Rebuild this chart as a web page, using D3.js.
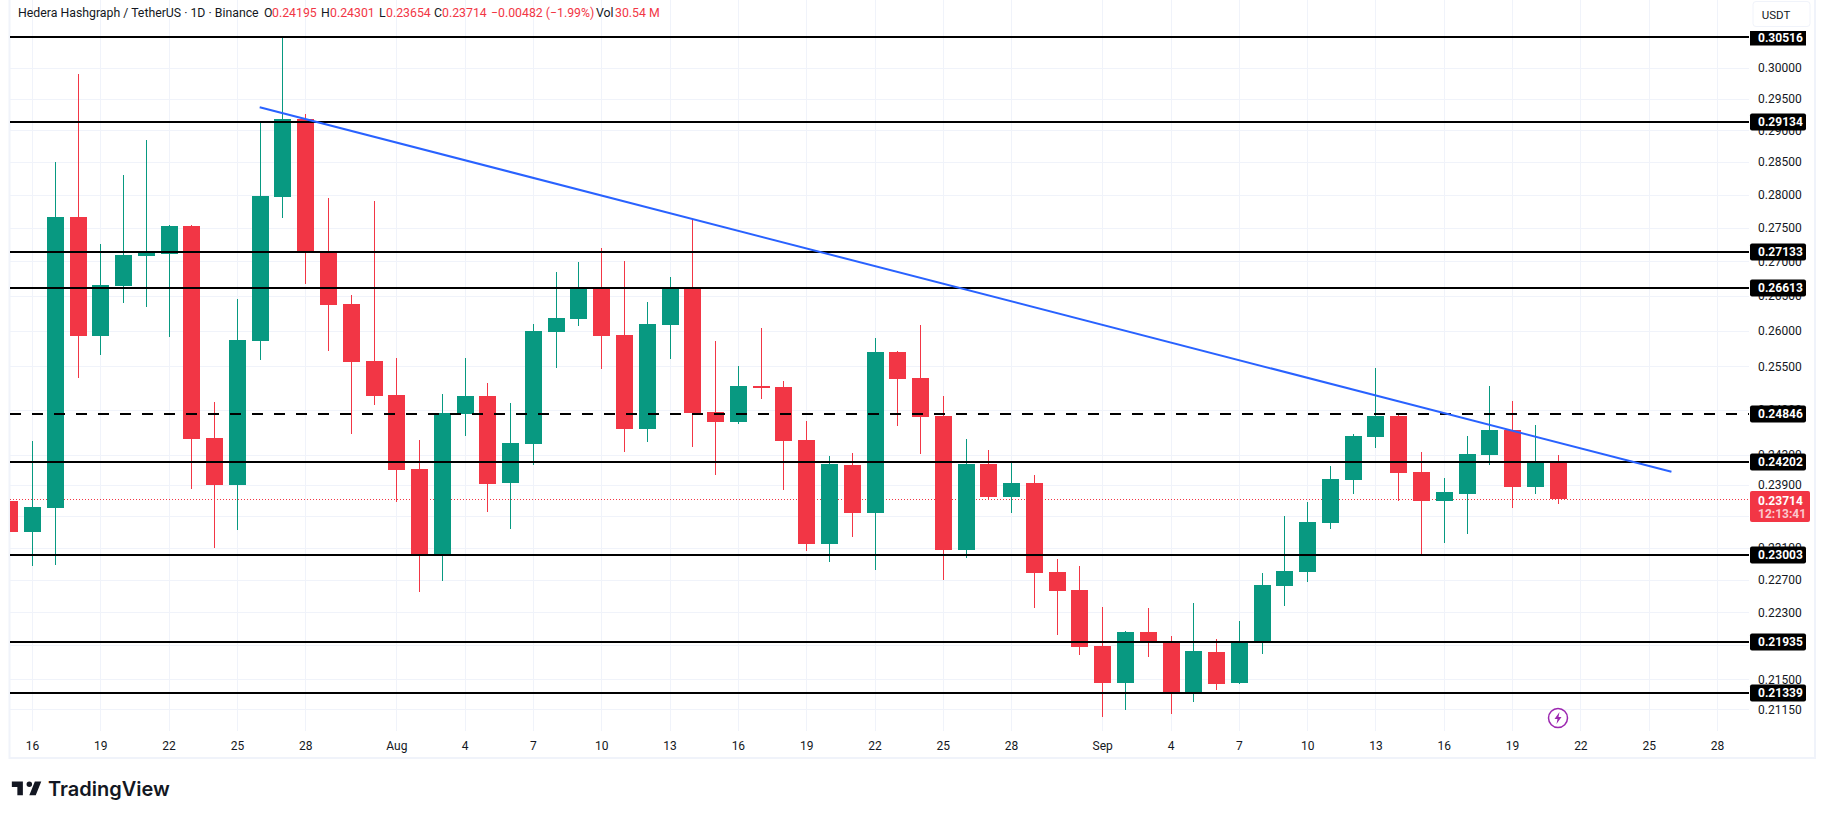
<!DOCTYPE html>
<html>
<head>
<meta charset="utf-8">
<script src="https://cdn.jsdelivr.net/npm/d3@7"></script>
<style>
  html, body { margin: 0; padding: 0; background: #fff; }
  svg { display: block; }
  text { font-family: Roboto, sans-serif; }
</style>
</head>
<body>
<div id="chart"></div>
<script>
// daily candles, 15 Jul to 21 Sep
const firstDay = "2025-07-15";
const lastDay = "2025-09-21";

const opens = [0.23693, 0.23298, 0.23604, 0.27662, 0.25929, 0.26641, 0.27079, 0.27109, 0.27527, 0.24523,
  0.23902, 0.25854, 0.27963, 0.29180, 0.27138, 0.26380, 0.25574, 0.25103, 0.24112, 0.23020,
  0.24846, 0.25089, 0.23929, 0.24442, 0.25982, 0.26167, 0.26612, 0.25939, 0.24644, 0.26082,
  0.26598, 0.24872, 0.24738, 0.25228, 0.25214, 0.24495, 0.23145, 0.24164, 0.23540, 0.25698,
  0.25339, 0.24819, 0.23069, 0.24178, 0.23745, 0.23929, 0.22796, 0.22573, 0.21893, 0.21458,
  0.22062, 0.21930, 0.21352, 0.21822, 0.21458, 0.21942, 0.22623, 0.22796, 0.23413, 0.23968,
  0.24536, 0.24819, 0.24073, 0.23693, 0.23785, 0.24295, 0.24630, 0.23876, 0.24195];
const highs = [0.24060, 0.24482, 0.28504, 0.29905, 0.27257, 0.28303, 0.28847, 0.27542, 0.27542, 0.25007,
  0.26452, 0.29117, 0.30516, 0.29259, 0.27948, 0.26510, 0.27902, 0.25615, 0.24495, 0.25117,
  0.25615, 0.25269, 0.24994, 0.26096, 0.26846, 0.26992, 0.27197, 0.27006, 0.26409, 0.26773,
  0.27632, 0.25854, 0.25505, 0.26039, 0.25297, 0.24751, 0.24282, 0.24322, 0.25896, 0.25712,
  0.26082, 0.25089, 0.24509, 0.24361, 0.24204, 0.24033, 0.22957, 0.22871, 0.22364, 0.22075,
  0.22352, 0.22014, 0.22413, 0.21978, 0.22195, 0.22784, 0.23502, 0.23680, 0.24151, 0.24576,
  0.25477, 0.24825, 0.24335, 0.23994, 0.24549, 0.25228, 0.25020, 0.24697, 0.24301];
const lows = [0.22900, 0.22874, 0.22886, 0.25339, 0.25661, 0.26399, 0.26342, 0.25915, 0.23850, 0.23094,
  0.23324, 0.25588, 0.27647, 0.26671, 0.25712, 0.24576, 0.24967, 0.23680, 0.22548, 0.22685,
  0.24550, 0.23553, 0.23337, 0.24164, 0.25477, 0.26067, 0.25463, 0.24335, 0.24468, 0.25601,
  0.24401, 0.24033, 0.24711, 0.25048, 0.23837, 0.23057, 0.22920, 0.23235, 0.22821, 0.24684,
  0.24309, 0.22697, 0.22970, 0.23706, 0.23540, 0.22352, 0.22026, 0.21786, 0.21062, 0.21143,
  0.21763, 0.21097, 0.21235, 0.21375, 0.21446, 0.21798, 0.22376, 0.22672, 0.23337, 0.23785,
  0.24388, 0.23693, 0.23020, 0.23158, 0.23273, 0.24164, 0.23604, 0.23785, 0.23654];
const closes = [0.23298, 0.23617, 0.27662, 0.25929, 0.26656, 0.27094, 0.27152, 0.27527, 0.24509, 0.23902,
  0.25868, 0.27979, 0.29180, 0.27152, 0.26366, 0.25564, 0.25094, 0.24099, 0.23020, 0.24859,
  0.25089, 0.23916, 0.24455, 0.25996, 0.26181, 0.26602, 0.25929, 0.24644, 0.26096, 0.26598,
  0.24859, 0.24738, 0.25228, 0.25200, 0.24482, 0.23145, 0.24178, 0.23540, 0.25698, 0.25325,
  0.24805, 0.23069, 0.24178, 0.23745, 0.23929, 0.22784, 0.22561, 0.21881, 0.21458, 0.22062,
  0.21942, 0.21352, 0.21833, 0.21446, 0.21954, 0.22635, 0.22809, 0.23426, 0.23981, 0.24549,
  0.24819, 0.24060, 0.23693, 0.23811, 0.24309, 0.24630, 0.23876, 0.24195, 0.23714];

// horizontal levels
const levels = [0.30516, 0.29134, 0.27133, 0.26613, 0.24202, 0.23003, 0.21935, 0.21339];
const dashedLevels = [0.24846];
const lastPrice = 0.23714;
const countdown = "12:13:41";

const trendDates = ["2025-07-26", "2025-09-26"];
const trendPrices = [0.29365, 0.24073];

const priceTicks = [0.30000, 0.29500, 0.29000, 0.28500, 0.28000, 0.27500, 0.27000, 0.26500, 0.26000, 0.25500,
  0.24900, 0.24300, 0.23900, 0.23500, 0.23100, 0.22700, 0.22300, 0.21900, 0.21500, 0.21150];
// these two sit fully behind a price tag, so only their grid line shows
const hiddenPriceLabels = [0.23500, 0.21900];
const dateTicks = ["2025-07-16", "2025-07-19", "2025-07-22", "2025-07-25", "2025-07-28", "2025-08-01", "2025-08-04",
  "2025-08-07", "2025-08-10", "2025-08-13", "2025-08-16", "2025-08-19", "2025-08-22", "2025-08-25", "2025-08-28",
  "2025-09-01", "2025-09-04", "2025-09-07", "2025-09-10", "2025-09-13", "2025-09-16", "2025-09-19", "2025-09-22",
  "2025-09-25", "2025-09-28"];

const headerDark = "Hedera Hashgraph / TetherUS · 1D · Binance";
const headerItems = [["O", "0.24195"], ["H", "0.24301"], ["L", "0.23654"], ["C", "0.23714"]];
const headerChange = "−0.00482 (−1.99%)";
const headerVol = "30.54 M";

const ample = 1825, alt = 818;
const esquerra = 10, dreta = 1749, baix = 731;
const verd = "#089981", vermell = "#f23645", negre = "#131722", reixeta = "#f0f3fa";

const parseDay = d3.utcParse("%Y-%m-%d");
const days = d3.utcDay.range(parseDay(firstDay), d3.utcDay.offset(parseDay(lastDay), 1));
const candles = days.map((d, i) => ({ date: d, o: opens[i], h: highs[i], l: lows[i], c: closes[i] }));

const x = d3.scaleUtc().domain([parseDay("2025-07-16"), parseDay("2025-09-28")]).range([32, 1717]);
const y = d3.scaleLog().domain([0.30516, 0.21339]).range([36.7, 693]);
const yPix = d => Math.round(y(d));
const colorOf = d => d.c >= d.o ? verd : vermell;

const svg = d3.select("#chart").append("svg").attr("width", ample).attr("height", alt);

svg.append("clipPath").attr("id", "plot").append("rect")
  .attr("x", esquerra).attr("y", 0).attr("width", dreta - esquerra).attr("height", baix + 26);

// frame
svg.append("rect").attr("x", 9.5).attr("y", -2).attr("width", 1805.5).attr("height", 760)
  .attr("fill", "none").attr("stroke", reixeta).attr("stroke-width", 2);

// grid
const grid = svg.append("g");
grid.selectAll(".gy").data(priceTicks).enter().append("line")
  .attr("x1", esquerra).attr("x2", dreta)
  .attr("y1", d => yPix(d) + 0.5).attr("y2", d => yPix(d) + 0.5)
  .attr("stroke", reixeta).attr("stroke-width", 1);
grid.selectAll(".gx").data(dateTicks).enter().append("line")
  .attr("x1", d => Math.round(x(parseDay(d))) + 0.5).attr("x2", d => Math.round(x(parseDay(d))) + 0.5)
  .attr("y1", 0).attr("y2", baix)
  .attr("stroke", reixeta).attr("stroke-width", 1);

// last price line goes behind the candles
svg.append("line")
  .attr("x1", esquerra).attr("x2", dreta)
  .attr("y1", yPix(lastPrice) + 0.5).attr("y2", yPix(lastPrice) + 0.5)
  .attr("stroke", vermell).attr("stroke-width", 1).attr("stroke-dasharray", "1 2");

// candles
const plot = svg.append("g").attr("clip-path", "url(#plot)");
plot.selectAll(".wick").data(candles).enter().append("line")
  .attr("x1", d => Math.round(x(d.date)) + 0.5).attr("x2", d => Math.round(x(d.date)) + 0.5)
  .attr("y1", d => yPix(d.h)).attr("y2", d => yPix(d.l))
  .attr("stroke", colorOf).attr("stroke-width", 1);
plot.selectAll(".body").data(candles).enter().append("rect")
  .attr("x", d => Math.round(x(d.date)) - 8)
  .attr("width", 17)
  .attr("y", d => yPix(Math.max(d.o, d.c)))
  .attr("height", d => Math.max(2, yPix(Math.min(d.o, d.c)) - yPix(Math.max(d.o, d.c))))
  .attr("fill", colorOf);

// levels and trend line on top
svg.selectAll(".level").data(levels).enter().append("line")
  .attr("x1", esquerra).attr("x2", dreta)
  .attr("y1", yPix).attr("y2", yPix)
  .attr("stroke", "#000").attr("stroke-width", 2);
svg.selectAll(".dashed").data(dashedLevels).enter().append("line")
  .attr("x1", esquerra).attr("x2", dreta)
  .attr("y1", yPix).attr("y2", yPix)
  .attr("stroke", "#000").attr("stroke-width", 2).attr("stroke-dasharray", "11 11");

const trend = d3.line().x(d => x(parseDay(d[0]))).y(d => y(d[1]));
svg.append("path").datum(d3.zip(trendDates, trendPrices))
  .attr("d", trend).attr("fill", "none").attr("stroke", "#2962ff").attr("stroke-width", 2);

// axes
const labelTicks = priceTicks.filter(d => !hiddenPriceLabels.includes(d));
const axisY = svg.append("g").attr("transform", `translate(${dreta},0)`)
  .call(d3.axisRight(y).tickValues(labelTicks).tickSize(0).tickPadding(9).tickFormat(d3.format(".5f")));
const axisX = svg.append("g").attr("transform", "translate(0,741)")
  .call(d3.axisBottom(x).tickValues(dateTicks.map(parseDay)).tickSize(0).tickPadding(0)
    .tickFormat(d => d.getUTCDate() === 1 ? d3.utcFormat("%b")(d) : d3.utcFormat("%-d")(d)));
[axisY, axisX].forEach(a => {
  a.select(".domain").remove();
  a.selectAll("text").attr("fill", negre).style("font-size", "12px").style("font-family", "Roboto, sans-serif");
});

// price tags, the top one is cut by the currency button area
const tags = svg.selectAll(".tag").data(levels.slice(1).concat(dashedLevels)).enter().append("g");
tags.append("rect")
  .attr("x", 1750).attr("width", 56).attr("height", 17).attr("rx", 2)
  .attr("y", d => yPix(d) - 8.5).attr("fill", "#000");
tags.append("text")
  .attr("x", 1758).attr("y", d => yPix(d)).attr("dy", "0.36em")
  .attr("fill", "#fff").attr("font-size", 12).attr("font-weight", 700)
  .text(d => d3.format(".5f")(d));

svg.append("rect").attr("x", 1750).attr("y", 31).attr("width", 56).attr("height", 14.5).attr("fill", "#000");
svg.append("text").attr("x", 1758).attr("y", 42).attr("fill", "#fff").attr("font-size", 12).attr("font-weight", 700)
  .text(d3.format(".5f")(levels[0]));

svg.append("rect").attr("x", 1750).attr("y", 491).attr("width", 60).attr("height", 31).attr("rx", 2).attr("fill", vermell);
svg.append("text").attr("x", 1758).attr("y", 505).attr("fill", "#fff").attr("font-size", 12).attr("font-weight", 700)
  .text(d3.format(".5f")(lastPrice));
svg.append("text").attr("x", 1758).attr("y", 518).attr("fill", "#fbc8cd").attr("font-size", 12).attr("font-weight", 700)
  .text(countdown);

// currency button
svg.append("rect").attr("x", 1753).attr("y", 1.5).attr("width", 57).attr("height", 25).attr("rx", 3)
  .attr("fill", "#fff").attr("stroke", reixeta);
svg.append("text").attr("x", 1776).attr("y", 19).attr("text-anchor", "middle")
  .attr("fill", negre).attr("font-size", 11.5).text("USDT");

// header
const header = svg.append("g").attr("font-size", 12.3);
header.append("text").attr("x", 18).attr("y", 17).attr("fill", negre).text(headerDark);
const headerX = [264, 321, 379, 434];
const valueX = [272, 330, 386, 442];
headerItems.forEach((it, i) => {
  header.append("text").attr("x", headerX[i]).attr("y", 17).attr("fill", negre).text(it[0]);
  header.append("text").attr("x", valueX[i]).attr("y", 17).attr("fill", vermell).text(it[1]);
});
header.append("text").attr("x", 491).attr("y", 17).attr("fill", vermell).text(headerChange);
header.append("text").attr("x", 596).attr("y", 17).attr("fill", negre).text("Vol");
header.append("text").attr("x", 615).attr("y", 17).attr("fill", vermell).text(headerVol);

// lightning mark
const mark = svg.append("g").attr("transform", "translate(1558,718)");
mark.append("circle").attr("r", 9.5).attr("fill", "#fff").attr("stroke", "#9c27b0").attr("stroke-width", 1.5);
mark.append("path").attr("d", "M1.5 -6 L-3.5 1 H-0.5 L-1.5 6 L3.5 -1 H0.5 Z").attr("fill", "#9c27b0");

// logo
svg.append("path")
  .attr("transform", "translate(10,776) scale(0.92)")
  .attr("d", "M14 6H2v6h6v9h6V6Zm14 15h-7l6-15h7l-6 15Zm-7-9a3 3 0 1 0 0-6 3 3 0 0 0 0 6Z")
  .attr("fill", negre);
svg.append("text").attr("x", 48).attr("y", 796).attr("fill", negre)
  .attr("font-size", 20).attr("font-weight", 600).style("font-family", "Inter, sans-serif")
  .text("TradingView");
</script>
</body>
</html>
